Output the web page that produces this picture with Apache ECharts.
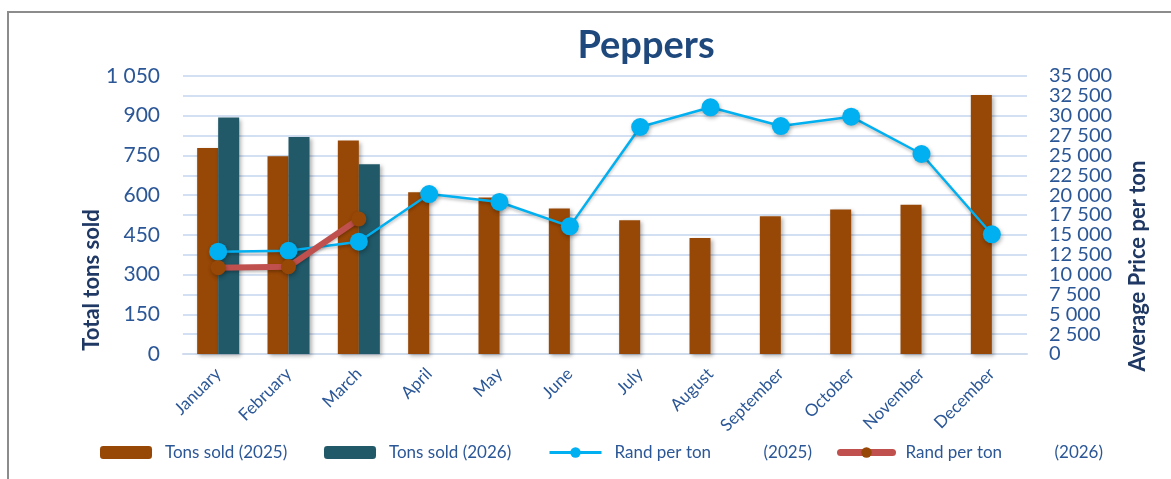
<!DOCTYPE html>
<html>
<head>
<meta charset="utf-8">
<script src="https://cdn.jsdelivr.net/npm/echarts@6/dist/echarts.min.js"></script>
<style>html,body{margin:0;padding:0;background:#fff}#c{width:1171px;height:479px}</style>
</head>
<body>
<div id="c"></div>
<script>
const months = ['January','February','March','April','May','June','July','August','September','October','November','December'];
const tons2025 = [778, 747, 806, 611, 591, 550, 505, 438, 520, 546, 564, 978];
const tons2026 = [893, 820, 717, null, null, null, null, null, null, null, null, null];
const rand2025 = [12880, 13000, 14140, 20140, 19140, 16070, 28580, 31060, 28700, 29880, 25180, 15070];
const rand2026 = [10870, 10990, 17000, null, null, null, null, null, null, null, null, null];

const FONT = 'Lato, "Open Sans", sans-serif';
const TXT = '#2B5797';
const fmt = v => String(v).replace(/\B(?=(\d{3})+(?!\d))/g, ' ');

const chart = echarts.init(document.getElementById('c'));
const legendBase = {
  top: 444, itemWidth: 52, itemHeight: 13, padding: 0,
  textStyle: {fontFamily: FONT, fontSize: 17, color: TXT, padding: [0,0,0,8],
    rich: {a: {fontFamily: FONT, fontSize: 17, color: TXT, width: 149}, b: {fontFamily: FONT, fontSize: 17, color: TXT}}},
  selectedMode: false
};
const randFmt = n => { const m = n.match(/^(.*) (\(\d+\))$/); return m ? '{a|' + m[1] + '}{b|' + m[2] + '}' : n; };
chart.setOption({
  animation: false,
  backgroundColor: '#fff',
  textStyle: {fontFamily: FONT},
  title: {text: 'Peppers', left: 641, top: 22, textAlign: 'center',
    textStyle: {fontFamily: FONT, fontSize: 38, fontWeight: 'bold', color: '#1F497D'}},
  graphic: [{type: 'rect', shape: {x: 8, y: 12, width: 1300, height: 700},
    style: {fill: null, stroke: '#8C8C8C', lineWidth: 2}, silent: true, z: -10}],
  legend: [
    Object.assign({}, legendBase, {left: 100, data: ['Tons sold (2025)']}),
    Object.assign({}, legendBase, {left: 324, data: ['Tons sold (2026)']}),
    Object.assign({}, legendBase, {left: 548, data: ['Rand per ton (2025)'], formatter: randFmt,
      lineStyle: {width: 3, color: '#00B0F0'}}),
    Object.assign({}, legendBase, {left: 837, data: ['Rand per ton (2026)'], formatter: randFmt,
      lineStyle: {width: 7, color: '#C0504D', cap: 'round'}})
  ],
  grid: {left: 183, right: 144, top: 76, bottom: 125},
  xAxis: {
    type: 'category', data: months,
    axisTick: {show: false},
    axisLine: {lineStyle: {color: '#CFDCEE', width: 2}},
    axisLabel: {rotate: 45, margin: 17, fontFamily: FONT, fontSize: 17, color: TXT, interval: 0}
  },
  yAxis: [
    {type: 'value', min: 0, max: 1050, interval: 75,
      name: 'Total tons sold', nameLocation: 'middle', nameGap: 80, nameRotate: 90, nameMoveOverlap: false,
      nameTextStyle: {fontFamily: FONT, fontSize: 22, fontWeight: 'bold', color: '#1F3864', padding: [0,130,0,0]},
      axisLine: {show: false}, axisTick: {show: false},
      axisLabel: {margin: 23, fontFamily: FONT, fontSize: 21, color: TXT,
        formatter: v => (v % 150 === 0 ? fmt(v) : '')},
      splitLine: {lineStyle: {color: '#D3E0F3', width: 2}}
    },
    {type: 'value', min: 0, max: 35000, interval: 2500, position: 'right',
      name: 'Average Price per ton', nameLocation: 'middle', nameGap: 100, nameRotate: 90,
      nameTextStyle: {fontFamily: FONT, fontSize: 22, fontWeight: 'bold', color: '#1F3864', padding: [0,102,0,0]},
      axisLine: {show: false}, axisTick: {show: false},
      axisLabel: {margin: 22, fontFamily: FONT, fontSize: 20, color: TXT, formatter: v => fmt(v)},
      splitLine: {show: false}
    }
  ],
  series: [
    {name: 'Tons sold (2025)', type: 'bar', data: tons2025, barWidth: 21, barGap: '0%',
      itemStyle: {color: '#974706', shadowBlur: 4, shadowColor: 'rgba(0,0,0,0.3)', shadowOffsetX: 2, shadowOffsetY: 2}},
    {name: 'Tons sold (2026)', type: 'bar', data: tons2026, barWidth: 21, barGap: '0%',
      itemStyle: {color: '#215968', shadowBlur: 4, shadowColor: 'rgba(0,0,0,0.3)', shadowOffsetX: 2, shadowOffsetY: 2}},
    {name: 'Rand per ton (2025)', type: 'line', yAxisIndex: 1, data: rand2025,
      symbol: 'circle', symbolSize: 18, z: 5,
      lineStyle: {color: '#00B0F0', width: 2.5, shadowBlur: 3, shadowColor: 'rgba(0,0,0,0.25)', shadowOffsetY: 2},
      itemStyle: {color: '#00B0F0', shadowBlur: 4, shadowColor: 'rgba(0,0,0,0.3)', shadowOffsetX: 1, shadowOffsetY: 2}},
    {name: 'Rand per ton (2026)', type: 'line', yAxisIndex: 1, data: rand2026,
      symbol: 'circle', symbolSize: 15, z: 6, connectNulls: false,
      lineStyle: {color: '#C0504D', width: 6, shadowBlur: 3, shadowColor: 'rgba(0,0,0,0.25)', shadowOffsetY: 2},
      itemStyle: {color: '#974706', shadowBlur: 4, shadowColor: 'rgba(0,0,0,0.3)', shadowOffsetX: 1, shadowOffsetY: 2}}
  ]
});
</script>
</body>
</html>
